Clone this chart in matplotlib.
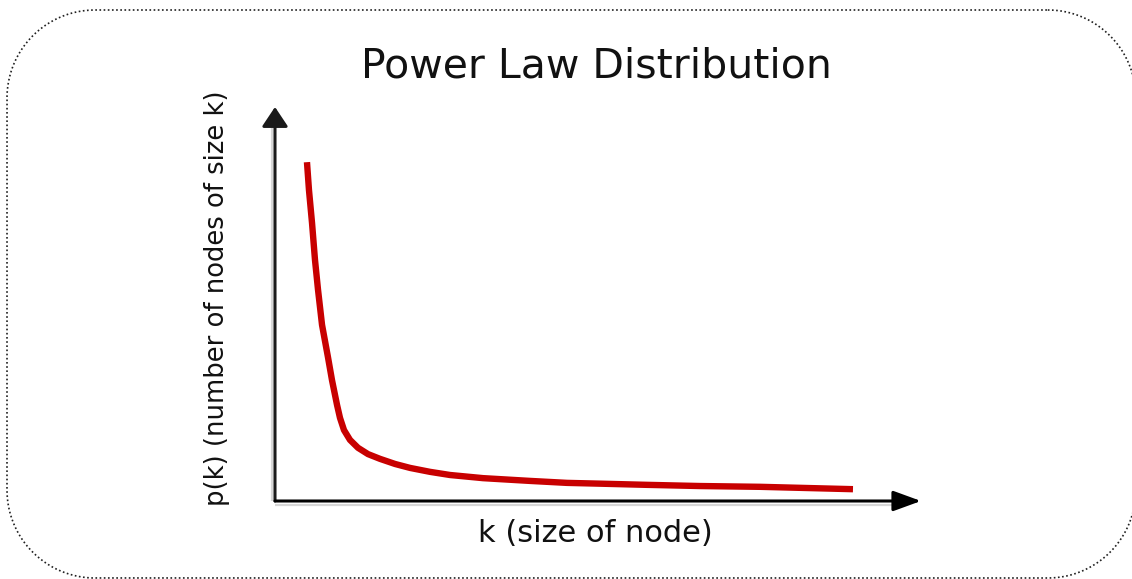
import matplotlib
matplotlib.use("Agg")
import numpy as np
import matplotlib.pyplot as plt

# ---- data (axes run 0..100 in both directions) ----
k_values = [4.95, 5.26, 5.73, 6.19, 6.66, 7.28, 8.20, 8.82, 9.60, 10.06,
            10.68, 11.61, 12.85, 14.40, 16.25, 18.58, 20.90, 23.99, 27.09,
            32.20, 39.47, 45.20, 50.31, 57.59, 65.79, 75.08, 89.47]
p_values = [86.0, 78.9, 70.6, 61.2, 53.6, 44.7, 36.5, 30.7, 24.4, 21.1,
            18.0, 15.5, 13.5, 11.9, 10.7, 9.4, 8.4, 7.4, 6.6,
            5.8, 5.1, 4.6, 4.4, 4.1, 3.8, 3.6, 3.0]

title_text = "Power Law Distribution"
x_label = "k (size of node)"
y_label = "p(k) (number of nodes of size k)"

W, H = 1132, 579
fig = plt.figure(figsize=(W / 100, H / 100), dpi=100)
fig.patch.set_facecolor("white")

# background overlay in pixel units for the frame and texts
bg = fig.add_axes([0, 0, 1, 1])
bg.set_xlim(0, W)
bg.set_ylim(H, 0)
bg.axis("off")

# dotted rounded frame built from true circular arcs
fx0, fy0, fx1, fy1, rad = 7, 10, 1135.8, 578, 88
corners = [(fx1 - rad, fy0 + rad, -90, 0), (fx1 - rad, fy1 - rad, 0, 90),
           (fx0 + rad, fy1 - rad, 90, 180), (fx0 + rad, fy0 + rad, 180, 270)]
fxs, fys = [], []
for cx, cy, a0, a1 in corners:
    t = np.radians(np.linspace(a0, a1, 60))
    fxs.extend(cx + rad * np.cos(t))
    fys.extend(cy + rad * np.sin(t))
fxs.append(fxs[0])
fys.append(fys[0])
bg.plot(fxs, fys, color="#202020", lw=1.2, linestyle=(0, (1, 1.5)),
        clip_on=True)

bg.text(596, 78, title_text, ha="center", va="baseline",
        fontsize=29.5, family="DejaVu Sans", color="#111111")
bg.text(595, 542, x_label, ha="center", va="baseline",
        fontsize=22, family="DejaVu Sans", color="#111111")
bg.text(217, 298, y_label, ha="center", va="center", rotation=90,
        fontsize=18.6, family="DejaVu Sans", color="#111111")

# main plotting axes: left 275, right 921, bottom 501, top 107 (pixels)
ax = fig.add_axes([275 / W, (H - 501) / H, (921 - 275) / W, (501 - 107) / H])
ax.set_xlim(0, 100)
ax.set_ylim(0, 100)
ax.axis("off")

# light shadows next to the axes
ax.plot([-0.45, -0.45], [0, 95], color="#d6d6d6",
        lw=1.6, clip_on=False, solid_capstyle="butt")
ax.plot([0, 96], [-0.9, -0.9], color="#d6d6d6", lw=1.6, clip_on=False,
        solid_capstyle="butt")

# axes with arrow heads
ax.annotate("", xy=(0, 1), xytext=(0, 0), xycoords="axes fraction",
            textcoords="axes fraction",
            arrowprops=dict(arrowstyle="-|>,head_length=12,head_width=8",
                            mutation_scale=1, lw=2.2, color="#1a1a1a",
                            shrinkA=0, shrinkB=0))
ax.annotate("", xy=(1, 0), xytext=(0, 0), xycoords="axes fraction",
            textcoords="axes fraction",
            arrowprops=dict(arrowstyle="-|>,head_length=17,head_width=6.2",
                            mutation_scale=1, lw=2.2, color="black",
                            shrinkA=0, shrinkB=0))

# the power-law curve
ax.plot(k_values, p_values, color="#c80000", lw=4.6,
        solid_capstyle="butt", solid_joinstyle="round", clip_on=False)

fig.savefig("out.png", dpi=100, facecolor="white")
